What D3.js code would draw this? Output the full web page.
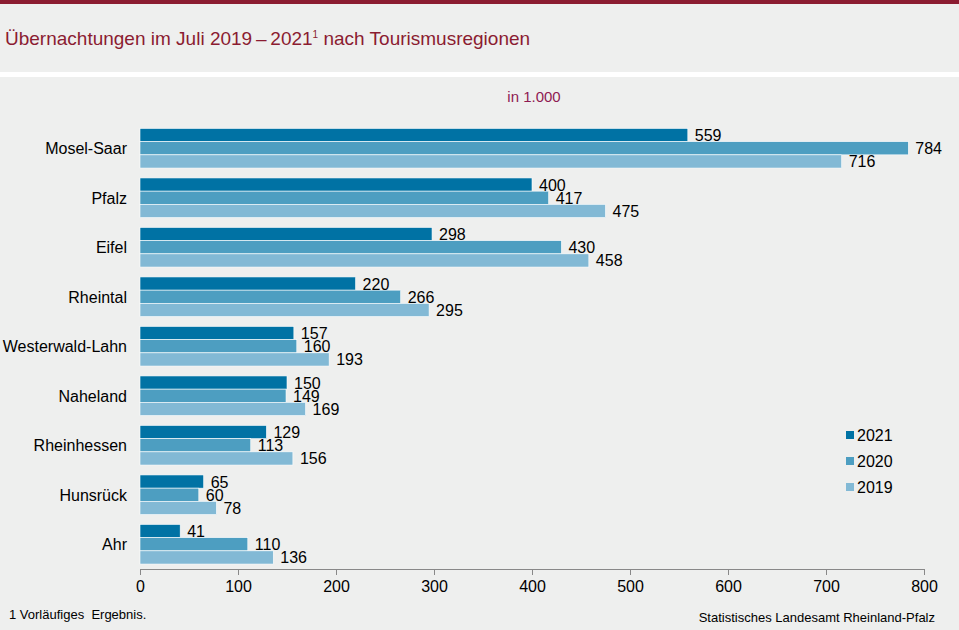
<!DOCTYPE html>
<html>
<head>
<meta charset="utf-8">
<script src="https://cdn.jsdelivr.net/npm/d3@7"></script>
<style>
  html, body { margin: 0; padding: 0; background: #eeefee; }
  svg { display: block; }
</style>
</head>
<body>
<div id="chart"></div>
<script>
// ── Data ───────────────────────────────────────────────────────────────────────
const regions = ["Mosel-Saar", "Pfalz", "Eifel", "Rheintal", "Westerwald-Lahn",
                 "Naheland", "Rheinhessen", "Hunsrück", "Ahr"];
const years = ["2021", "2020", "2019"];
const values2021 = [559, 400, 298, 220, 157, 150, 129, 65, 41];
const values2020 = [784, 417, 430, 266, 160, 149, 113, 60, 110];
const values2019 = [716, 475, 458, 295, 193, 169, 156, 78, 136];
const xTicks = [0, 100, 200, 300, 400, 500, 600, 700, 800];

const seriesValues = { "2021": values2021, "2020": values2020, "2019": values2019 };
const colors = { "2021": "#0072a4", "2020": "#4d9ec1", "2019": "#82b9d5" };

const W = 959, H = 630;
const FONT = "'Liberation Sans', Arial, sans-serif";
const NARROW = "'Liberation Sans Narrow', 'Arial Narrow', 'Liberation Sans', sans-serif";

const svg = d3.select("#chart").append("svg")
    .attr("width", W).attr("height", H);

// ── Frame ─────────────────────────────────────────────────────────────────────
svg.append("rect").attr("width", W).attr("height", H).attr("fill", "#eeefee");
svg.append("rect").attr("width", W).attr("height", 4).attr("fill", "#8b1c31");
svg.append("rect").attr("y", 72).attr("width", W).attr("height", 5).attr("fill", "#ffffff");

const title = svg.append("text")
    .attr("x", 5).attr("y", 45)
    .attr("font-family", FONT).attr("font-size", 19)
    .attr("fill", "#8b1c31");
title.append("tspan").text("Übernachtungen im Juli 2019\u2009–\u20092021");
title.append("tspan").attr("font-size", 10).attr("dy", -7).text("1");
title.append("tspan").attr("dy", 7).text(" nach Tourismusregionen");

svg.append("text")
    .attr("x", 534).attr("y", 102)
    .attr("text-anchor", "middle")
    .attr("font-family", FONT).attr("font-size", 15)
    .attr("fill", "#8e1a52")
    .text("in 1.000");

// ── Scales ────────────────────────────────────────────────────────────────────
const x = d3.scaleLinear().domain([0, 800]).range([140, 924]);
const y = d3.scaleBand().domain(regions).range([123.5, 569]).paddingInner(0.2).paddingOuter(0.1);
const ySub = d3.scaleBand().domain(years).range([0, y.bandwidth()]);

// ── Bars ──────────────────────────────────────────────────────────────────────
const groups = svg.append("g").selectAll("g")
    .data(regions)
    .join("g")
    .attr("transform", d => `translate(0,${y(d)})`);

groups.selectAll("rect")
    .data((r, i) => years.map(yr => ({ year: yr, value: seriesValues[yr][i] })))
    .join("rect")
    .attr("x", x(0))
    .attr("y", d => ySub(d.year))
    .attr("width", d => x(d.value) - x(0))
    .attr("height", ySub.bandwidth())
    .attr("fill", d => colors[d.year])
    .attr("stroke", "#ffffff")
    .attr("stroke-width", 0.6);

groups.selectAll("text.val")
    .data((r, i) => years.map(yr => ({ year: yr, value: seriesValues[yr][i] })))
    .join("text")
    .attr("class", "val")
    .attr("x", d => x(d.value) + 7)
    .attr("y", d => ySub(d.year) + ySub.bandwidth() / 2 + 6)
    .attr("font-family", FONT).attr("font-size", 16)
    .attr("fill", "#000")
    .text(d => d.value);

// ── Category labels ───────────────────────────────────────────────────────────
svg.append("g").selectAll("text")
    .data(regions)
    .join("text")
    .attr("x", 127)
    .attr("y", d => y(d) + y.bandwidth() / 2 + 6)
    .attr("text-anchor", "end")
    .attr("font-family", FONT).attr("font-size", 16)
    .attr("fill", "#000")
    .text(d => d);

// ── X axis ────────────────────────────────────────────────────────────────────
const xAxis = svg.append("g")
    .attr("transform", "translate(0,569)")
    .call(d3.axisBottom(x).tickValues(xTicks).tickSize(6).tickSizeOuter(0).tickPadding(6));
xAxis.select(".domain").attr("stroke", "#888");
xAxis.selectAll(".tick line").attr("stroke", "#888");
xAxis.selectAll(".tick text")
    .attr("font-family", NARROW).attr("font-size", 16)
    .attr("fill", "#000");

// ── Legend ────────────────────────────────────────────────────────────────────
const legend = svg.append("g").selectAll("g")
    .data(years)
    .join("g")
    .attr("transform", (d, i) => `translate(846,${431 + i * 26})`);
legend.append("rect")
    .attr("width", 8).attr("height", 8)
    .attr("fill", d => colors[d]);
legend.append("text")
    .attr("x", 11).attr("y", 10)
    .attr("font-family", FONT).attr("font-size", 16)
    .attr("fill", "#000")
    .text(d => d);

// ── Footer ────────────────────────────────────────────────────────────────────
svg.append("text")
    .attr("x", 9).attr("y", 619)
    .attr("font-family", NARROW).attr("font-size", 13)
    .attr("fill", "#000")
    .attr("xml:space", "preserve")
    .text("1 Vorläufiges  Ergebnis.");
svg.append("text")
    .attr("x", 935).attr("y", 622)
    .attr("text-anchor", "end")
    .attr("font-family", NARROW).attr("font-size", 13)
    .attr("fill", "#000")
    .text("Statistisches Landesamt  Rheinland-Pfalz");
</script>
</body>
</html>
